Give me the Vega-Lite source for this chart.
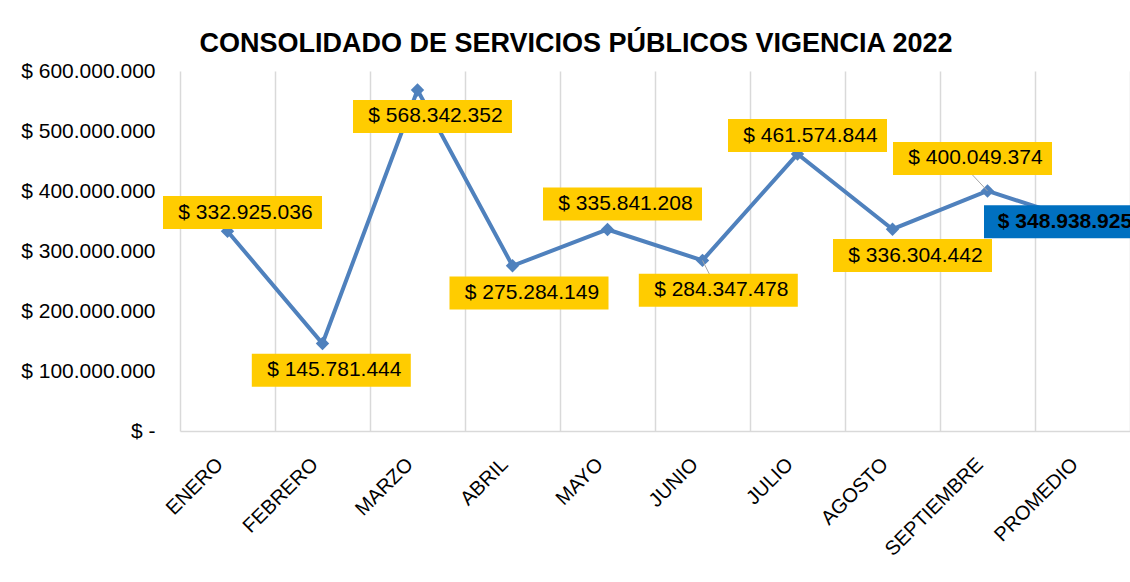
{
  "$schema": "https://vega.github.io/schema/vega-lite/v6.json",
  "width": 950,
  "height": 360,
  "autosize": {"type": "none"},
  "padding": {"left": 180, "top": 71, "right": 0, "bottom": 151},
  "background": "white",
  "config": {
    "view": {"stroke": null},
    "font": "Liberation Sans",
    "locale": {"number": {"decimal": ",", "thousands": ".", "grouping": [3], "currency": ["$ ", ""]}}
  },
  "title": {
    "text": "CONSOLIDADO DE SERVICIOS PÚBLICOS VIGENCIA 2022",
    "fontSize": 27,
    "fontWeight": "bold",
    "font": "Liberation Sans",
    "color": "black",
    "anchor": "middle",
    "frame": "group",
    "dx": -79,
    "dy": 38,
    "baseline": "alphabetic",
    "offset": 19
  },
  "data": {
    "values": [
      {"mes": "ENERO", "valor": 332925036},
      {"mes": "FEBRERO", "valor": 145781444},
      {"mes": "MARZO", "valor": 568342352},
      {"mes": "ABRIL", "valor": 275284149},
      {"mes": "MAYO", "valor": 335841208},
      {"mes": "JUNIO", "valor": 284347478},
      {"mes": "JULIO", "valor": 461574844},
      {"mes": "AGOSTO", "valor": 336304442},
      {"mes": "SEPTIEMBRE", "valor": 400049374},
      {"mes": "PROMEDIO", "valor": 348938925}
    ]
  },
  "encoding": {
    "x": {
      "field": "mes",
      "type": "nominal",
      "sort": null,
      "scale": {"type": "band", "paddingInner": 0, "paddingOuter": 0},
      "axis": {
        "title": null,
        "labelAngle": -45,
        "labelAlign": "right",
        "labelBaseline": "middle",
        "labelFontSize": 20,
        "labelFont": "Liberation Sans",
        "labelColor": "black",
        "labelPadding": 30,
        "labelOffset": -8,
        "ticks": false,
        "tickBand": "extent",
        "grid": true,
        "gridColor": "#D9D9D9",
        "gridWidth": 1.5,
        "domainColor": "#D9D9D9",
        "domainWidth": 1.5
      }
    },
    "y": {
      "field": "valor",
      "type": "quantitative",
      "scale": {"domain": [0, 600000000]},
      "axis": {
        "title": null,
        "values": [0, 100000000, 200000000, 300000000, 400000000, 500000000, 600000000],
        "format": "$,.0f",
        "labelExpr": "datum.value == 0 ? '$ -\\u2007\\u2007' : datum.label",
        "labelFontSize": 21,
        "labelFont": "Liberation Sans",
        "labelColor": "black",
        "labelPadding": 25,
        "ticks": false,
        "domain": false,
        "grid": false
      }
    }
  },
  "layer": [
    {"mark": {"type": "line", "color": "#4F81BD", "strokeWidth": 4}},
    {"mark": {"type": "point", "shape": "diamond", "filled": true, "color": "#4F81BD", "opacity": 1, "size": 180}},
    {
      "transform": [{"filter": "datum.mes == 'JUNIO'"}],
      "mark": {"type": "rule", "color": "#A6A6A6", "strokeWidth": 1, "x2Offset": 7, "y2Offset": 14},
      "encoding": {"x2": {"field": "mes"}, "y2": {"field": "valor"}}
    },
    {
      "transform": [{"filter": "datum.mes == 'SEPTIEMBRE'"}],
      "mark": {"type": "rule", "color": "#A6A6A6", "strokeWidth": 1, "x2Offset": -15, "y2Offset": -16},
      "encoding": {"x2": {"field": "mes"}, "y2": {"field": "valor"}}
    },
    {
      "transform": [{"filter": "datum.mes == 'ENERO'"}],
      "layer": [
        {"mark": {"type": "point", "shape": "M-1,-0.2075H1V0.2075H-1Z", "filled": true, "color": "#FFCC00", "opacity": 1, "size": 25281, "strokeWidth": 0, "xOffset": 15, "yOffset": -18.7}},
        {"mark": {"type": "text", "fontSize": 21, "color": "black", "align": "center", "baseline": "middle", "dx": 18, "dy": -18.7}, "encoding": {"text": {"field": "valor", "type": "quantitative", "format": "$,.0f"}}}
      ]
    },
    {
      "transform": [{"filter": "datum.mes == 'FEBRERO'"}],
      "layer": [
        {"mark": {"type": "point", "shape": "M-1,-0.2075H1V0.2075H-1Z", "filled": true, "color": "#FFCC00", "opacity": 1, "size": 25281, "strokeWidth": 0, "xOffset": 8.8, "yOffset": 26.8}},
        {"mark": {"type": "text", "fontSize": 21, "color": "black", "align": "center", "baseline": "middle", "dx": 11.8, "dy": 26.8}, "encoding": {"text": {"field": "valor", "type": "quantitative", "format": "$,.0f"}}}
      ]
    },
    {
      "transform": [{"filter": "datum.mes == 'MARZO'"}],
      "layer": [
        {"mark": {"type": "point", "shape": "M-1,-0.2075H1V0.2075H-1Z", "filled": true, "color": "#FFCC00", "opacity": 1, "size": 25281, "strokeWidth": 0, "xOffset": 15, "yOffset": 26.5}},
        {"mark": {"type": "text", "fontSize": 21, "color": "black", "align": "center", "baseline": "middle", "dx": 18, "dy": 26.5}, "encoding": {"text": {"field": "valor", "type": "quantitative", "format": "$,.0f"}}}
      ]
    },
    {
      "transform": [{"filter": "datum.mes == 'ABRIL'"}],
      "layer": [
        {"mark": {"type": "point", "shape": "M-1,-0.2075H1V0.2075H-1Z", "filled": true, "color": "#FFCC00", "opacity": 1, "size": 25281, "strokeWidth": 0, "xOffset": 16.5, "yOffset": 27.2}},
        {"mark": {"type": "text", "fontSize": 21, "color": "black", "align": "center", "baseline": "middle", "dx": 19.5, "dy": 27.2}, "encoding": {"text": {"field": "valor", "type": "quantitative", "format": "$,.0f"}}}
      ]
    },
    {
      "transform": [{"filter": "datum.mes == 'MAYO'"}],
      "layer": [
        {"mark": {"type": "point", "shape": "M-1,-0.2075H1V0.2075H-1Z", "filled": true, "color": "#FFCC00", "opacity": 1, "size": 25281, "strokeWidth": 0, "xOffset": 15, "yOffset": -25.5}},
        {"mark": {"type": "text", "fontSize": 21, "color": "black", "align": "center", "baseline": "middle", "dx": 18, "dy": -25.5}, "encoding": {"text": {"field": "valor", "type": "quantitative", "format": "$,.0f"}}}
      ]
    },
    {
      "transform": [{"filter": "datum.mes == 'JUNIO'"}],
      "layer": [
        {"mark": {"type": "point", "shape": "M-1,-0.2075H1V0.2075H-1Z", "filled": true, "color": "#FFCC00", "opacity": 1, "size": 25281, "strokeWidth": 0, "xOffset": 15.8, "yOffset": 29.9}},
        {"mark": {"type": "text", "fontSize": 21, "color": "black", "align": "center", "baseline": "middle", "dx": 18.8, "dy": 29.9}, "encoding": {"text": {"field": "valor", "type": "quantitative", "format": "$,.0f"}}}
      ]
    },
    {
      "transform": [{"filter": "datum.mes == 'JULIO'"}],
      "layer": [
        {"mark": {"type": "point", "shape": "M-1,-0.2075H1V0.2075H-1Z", "filled": true, "color": "#FFCC00", "opacity": 1, "size": 25281, "strokeWidth": 0, "xOffset": 10, "yOffset": -18.5}},
        {"mark": {"type": "text", "fontSize": 21, "color": "black", "align": "center", "baseline": "middle", "dx": 13, "dy": -18.5}, "encoding": {"text": {"field": "valor", "type": "quantitative", "format": "$,.0f"}}}
      ]
    },
    {
      "transform": [{"filter": "datum.mes == 'AGOSTO'"}],
      "layer": [
        {"mark": {"type": "point", "shape": "M-1,-0.2075H1V0.2075H-1Z", "filled": true, "color": "#FFCC00", "opacity": 1, "size": 25281, "strokeWidth": 0, "xOffset": 20, "yOffset": 26.3}},
        {"mark": {"type": "text", "fontSize": 21, "color": "black", "align": "center", "baseline": "middle", "dx": 23, "dy": 26.3}, "encoding": {"text": {"field": "valor", "type": "quantitative", "format": "$,.0f"}}}
      ]
    },
    {
      "transform": [{"filter": "datum.mes == 'SEPTIEMBRE'"}],
      "layer": [
        {"mark": {"type": "point", "shape": "M-1,-0.2075H1V0.2075H-1Z", "filled": true, "color": "#FFCC00", "opacity": 1, "size": 25281, "strokeWidth": 0, "xOffset": -15, "yOffset": -32.5}},
        {"mark": {"type": "text", "fontSize": 21, "color": "black", "align": "center", "baseline": "middle", "dx": -12, "dy": -32.5}, "encoding": {"text": {"field": "valor", "type": "quantitative", "format": "$,.0f"}}}
      ]
    },
    {
      "transform": [{"filter": "datum.mes == 'PROMEDIO'"}],
      "layer": [
        {"mark": {"type": "point", "shape": "M-1,-0.194H1V0.194H-1Z", "filled": true, "color": "#0070C0", "opacity": 1, "size": 28900, "strokeWidth": 0, "xOffset": -13.5, "yOffset": 0}},
        {"mark": {"type": "text", "fontSize": 21, "fontWeight": "bold", "color": "black", "align": "center", "baseline": "middle", "dx": -17.5, "dy": 0}, "encoding": {"text": {"field": "valor", "type": "quantitative", "format": "$,.0f"}}}
      ]
    }
  ]
}
